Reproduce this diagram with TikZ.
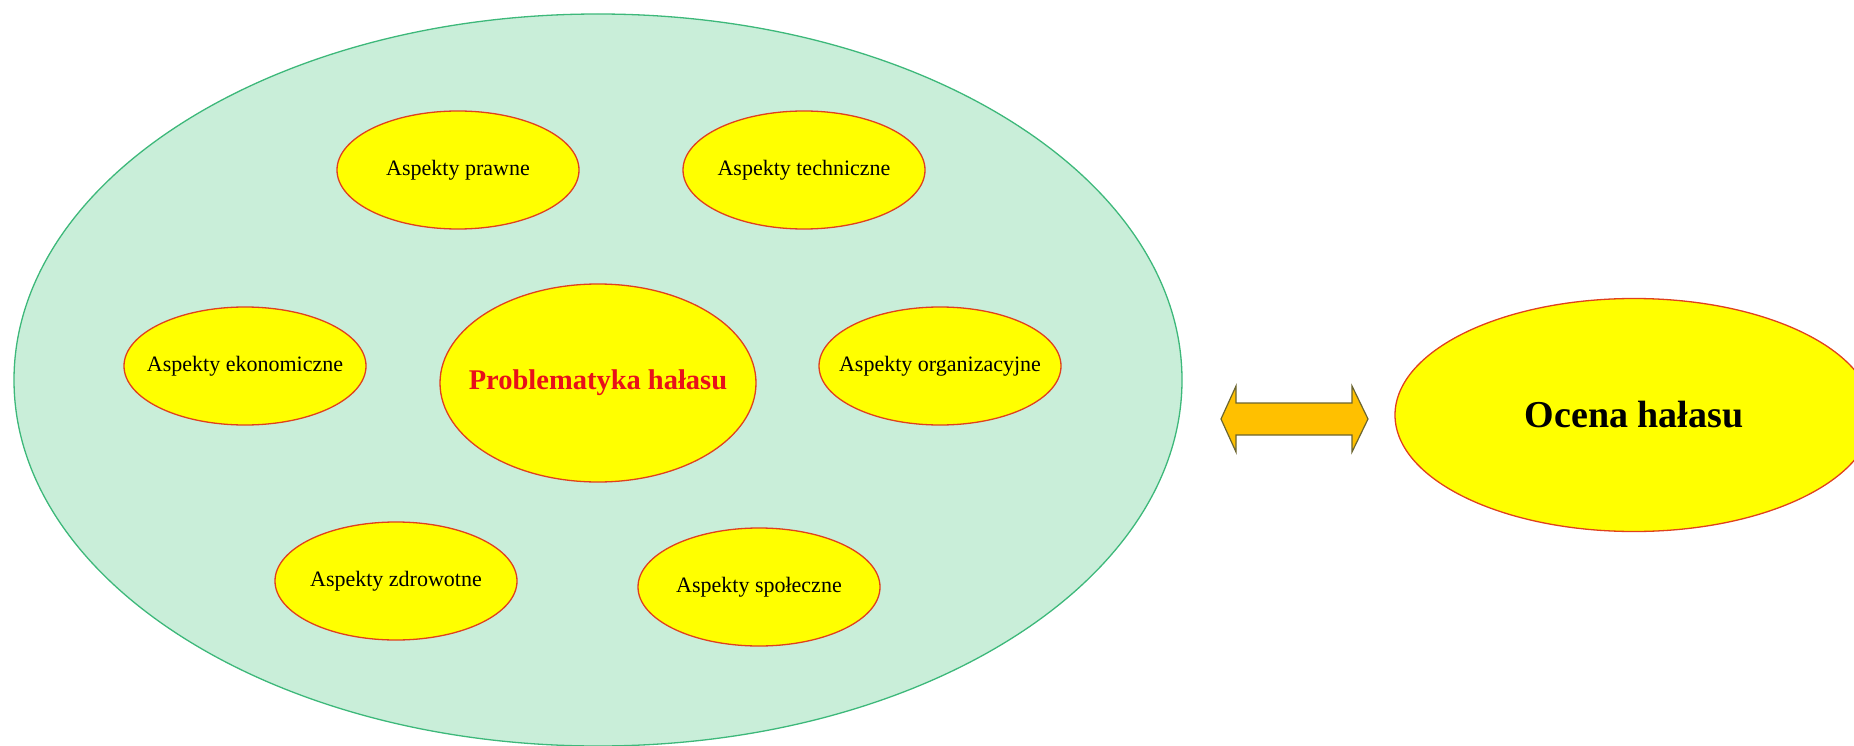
\documentclass[tikz,border=0pt]{standalone}
\usepackage{fontspec}
\setmainfont{Liberation Serif}
\usetikzlibrary{shapes.geometric}
\definecolor{bigfill}{HTML}{C9EED9}
\definecolor{bigline}{HTML}{3DB87A}
\definecolor{yel}{HTML}{FFFF00}
\definecolor{redline}{HTML}{E0401E}
\definecolor{redtext}{HTML}{E8101A}
\definecolor{arrfill}{HTML}{FFC000}
\definecolor{arrline}{HTML}{6B6530}
\tikzset{
  yelell/.style={ellipse, draw=redline, fill=yel, line width=1.3pt, inner sep=0pt},
  aspect/.style={yelell, minimum width=242pt, minimum height=118pt, font=\fontsize{22}{26}\selectfont},
}
\newcommand{\zb}[1]{\makebox[0pt][c]{#1}}
\begin{document}
\begin{tikzpicture}[x=1pt,y=-1pt]
\useasboundingbox (0,0) rectangle (1854,746);
\clip (0,0) rectangle (1854,746);
\node[ellipse, draw=bigline, fill=bigfill, line width=1.3pt, inner sep=0pt,
  minimum width=1168pt, minimum height=732pt] (big) at (598,380) {};
\node[aspect] (prawne) at (458,170) {\zb{Aspekty prawne}};
\node[aspect] (tech) at (804,170) {\zb{Aspekty techniczne}};
\node[aspect] (ekon) at (245,366) {\zb{Aspekty ekonomiczne}};
\node[aspect] (org) at (940,366) {\zb{Aspekty organizacyjne}};
\node[aspect] (zdr) at (396,581) {\zb{Aspekty zdrowotne}};
\node[aspect] (spol) at (759,587) {\zb{Aspekty społeczne}};
\node[yelell, minimum width=316pt, minimum height=198pt, text=redtext,
  font=\fontsize{28.5}{32}\selectfont\bfseries] (prob) at (598,383) {\zb{Problematyka hałasu}};
\node[yelell, minimum width=478pt, minimum height=233pt,
  font=\fontsize{38}{44}\selectfont\bfseries] (ocena) at (1634,415) {\zb{Ocena hałasu}};
\coordinate (arr) at (1294.5,419);
\draw[fill=arrfill, draw=arrline, line width=1.2pt, line join=miter]
  ([xshift=-73.5pt]arr) -- ([xshift=-58.5pt,yshift=-33pt]arr) -- ([xshift=-58.5pt,yshift=-16pt]arr)
  -- ([xshift=57.5pt,yshift=-16pt]arr) -- ([xshift=57.5pt,yshift=-33pt]arr) -- ([xshift=73.5pt]arr)
  -- ([xshift=57.5pt,yshift=33pt]arr) -- ([xshift=57.5pt,yshift=16pt]arr)
  -- ([xshift=-58.5pt,yshift=16pt]arr) -- ([xshift=-58.5pt,yshift=33pt]arr) -- cycle;
\end{tikzpicture}
\end{document}
